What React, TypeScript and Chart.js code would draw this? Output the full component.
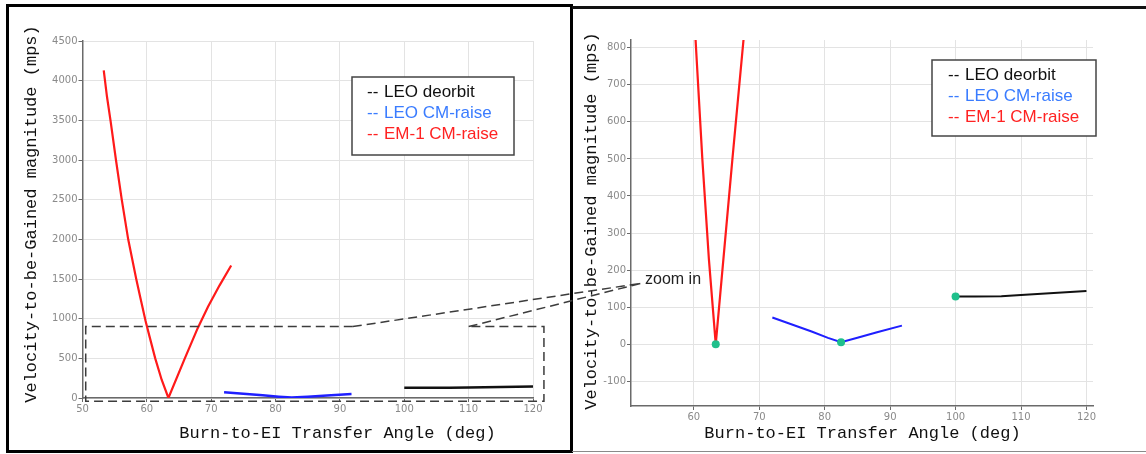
import React, { useEffect, useRef } from 'react';
import { Chart, registerables } from 'chart.js';

Chart.register(...registerables);

// ---------- data ----------
const redX = [53.3, 53.8, 54.35, 55.2, 56.1, 57.1, 58.35, 59.0, 59.8, 60.4, 61.3, 62.3, 63.35, 65.9, 67.9, 69.5, 71.3, 73.1];
const redY = [4130, 3800, 3500, 3000, 2500, 2000, 1500, 1260, 970, 780, 500, 230, 0, 500, 880, 1150, 1420, 1670];
const blueX = [72, 75, 78, 80.5, 82.5, 85, 88, 91.8];
const blueY = [72, 53, 34, 17, 5, 17, 32, 50];
const blackX = [100, 103, 107, 110, 115, 120];
const blackY = [128.5, 128.8, 129.5, 132.8, 138.3, 143.7];
const minX = [63.35, 82.5, 100];
const minY = [0, 5, 128.5];

const seriesLabels = ['LEO deorbit', 'LEO CM-raise', 'EM-1 CM-raise'];
const legendColors = ['#111111', '#3a7cff', '#ff2222'];
const lineColors = ['#111111', '#1f1fff', '#ff1a1a'];
const minColor = '#1fc08c';

const xTitle = 'Burn-to-EI Transfer Angle (deg)';
const yTitle = 'Velocity-to-be-Gained magnitude (mps)';

const leftXRange = [50, 120];
const leftYRange = [0, 4500];
const leftYStep = 500;
const rightXRange = [50.4, 121];
const rightYRange = [-167, 821];
const rightYStep = 100;
const xStep = 10;

const zoomBoxX = [50.5, 121.7];
const zoomBoxY = [-40, 900];
const zoomGapX = [92, 110];
const zoomTarget = [51.9, 164];

const pts = (xs: number[], ys: number[]) => xs.map((x, i) => ({ x, y: ys[i] }));

const TICK_FONT = { family: '"DejaVu Sans", Verdana, sans-serif', size: 10 };
const MONO = '17px "Liberation Mono", "Courier New", monospace';

function seriesDatasets(width: number) {
  return [
    { label: seriesLabels[0], data: pts(blackX, blackY), borderColor: lineColors[0], borderWidth: width, pointRadius: 0 },
    { label: seriesLabels[1], data: pts(blueX, blueY), borderColor: lineColors[1], borderWidth: width, pointRadius: 0 },
    { label: seriesLabels[2], data: pts(redX, redY), borderColor: lineColors[2], borderWidth: 2.2, pointRadius: 0 },
  ];
}

function scaleOpts(range: number[], step: number, fit: (s: any) => void) {
  return {
    type: 'linear',
    min: range[0],
    max: range[1],
    afterFit: fit,
    border: { display: true, color: '#6a6a6a', width: 1.5 },
    grid: { color: '#e3e3e3', lineWidth: 1, drawTicks: true, tickLength: 4, tickColor: '#6a6a6a' },
    ticks: {
      stepSize: step,
      includeBounds: false,
      color: '#8a8a8a',
      font: TICK_FONT,
      padding: 1,
      maxRotation: 0,
      autoSkip: false,
      callback: (v: any) => String(v),
    },
    title: { display: false },
  };
}

function makeLegend(id: string, bx: number, by: number, bw: number, bh: number, dashDx: number, textDx: number) {
  return {
    id,
    afterDraw(chart: any) {
      const { ctx, chartArea } = chart;
      const x0 = chartArea.left + bx;
      const y0 = chartArea.top + by;
      ctx.save();
      ctx.fillStyle = '#ffffff';
      ctx.fillRect(x0, y0, bw, bh);
      ctx.strokeStyle = '#444444';
      ctx.lineWidth = 1.5;
      ctx.strokeRect(x0, y0, bw, bh);
      ctx.font = '17px "Liberation Sans", Arial, sans-serif';
      ctx.textBaseline = 'middle';
      seriesLabels.forEach((lab, i) => {
        const yy = y0 + 15 + i * 21;
        ctx.fillStyle = legendColors[i];
        ctx.fillText('--', x0 + dashDx, yy);
        ctx.fillText(lab, x0 + textDx, yy);
      });
      ctx.restore();
    },
  };
}

function makeTitles(id: string, xPos: number[], yPos: number[]) {
  return {
    id,
    afterDraw(chart: any) {
      const { ctx } = chart;
      ctx.save();
      ctx.font = MONO;
      ctx.fillStyle = '#111111';
      ctx.textAlign = 'center';
      ctx.textBaseline = 'middle';
      ctx.fillText(xTitle, xPos[0], xPos[1]);
      ctx.translate(yPos[0], yPos[1]);
      ctx.rotate(-Math.PI / 2);
      ctx.fillText(yTitle, 0, 0);
      ctx.restore();
    },
  };
}

const zoomBoxPlugin = {
  id: 'zoomBox',
  afterDatasetsDraw(chart: any) {
    const { ctx, scales } = chart;
    const x0 = scales.x.getPixelForValue(zoomBoxX[0]);
    const x1 = scales.x.getPixelForValue(zoomBoxX[1]);
    const yb = scales.y.getPixelForValue(zoomBoxY[0]);
    const yt = scales.y.getPixelForValue(zoomBoxY[1]);
    const g0 = scales.x.getPixelForValue(zoomGapX[0]);
    const g1 = scales.x.getPixelForValue(zoomGapX[1]);
    ctx.save();
    ctx.setLineDash([9, 5]);
    ctx.strokeStyle = '#3c3c3c';
    ctx.lineWidth = 1.5;
    ctx.beginPath();
    ctx.moveTo(g0, yt);
    ctx.lineTo(x0, yt);
    ctx.lineTo(x0, yb);
    ctx.lineTo(x1, yb);
    ctx.lineTo(x1, yt);
    ctx.lineTo(g1, yt);
    ctx.stroke();
    ctx.restore();
  },
};

const LEFT = { left: 8, top: 8, width: 562, height: 442 };
const RIGHT = { left: 574, top: 8, width: 572, height: 442 };

export default function App() {
  const leftRef = useRef<HTMLCanvasElement>(null);
  const rightRef = useRef<HTMLCanvasElement>(null);
  const overlayRef = useRef<HTMLCanvasElement>(null);

  useEffect(() => {
    const left = new Chart(leftRef.current as HTMLCanvasElement, {
      type: 'line',
      data: { datasets: seriesDatasets(2.5) as any },
      options: {
        animation: false,
        responsive: false,
        layout: { padding: { left: 0, top: 33, right: 37, bottom: 0 } },
        plugins: { legend: { display: false }, tooltip: { enabled: false } },
        scales: {
          x: scaleOpts(leftXRange, xStep, (s: any) => { s.height = 52; }) as any,
          y: scaleOpts(leftYRange, leftYStep, (s: any) => { s.width = 74.5; }) as any,
        },
      },
      plugins: [zoomBoxPlugin, makeLegend('legL', 269.5, 36, 162, 78, 15, 32), makeTitles('titL', [329.5, 425], [23.7, 206])],
    });

    const right = new Chart(rightRef.current as HTMLCanvasElement, {
      type: 'line',
      data: {
        datasets: [
          { label: 'min', data: pts(minX, minY), showLine: false, pointRadius: 4, pointBackgroundColor: minColor, pointBorderWidth: 0, borderColor: minColor },
          ...seriesDatasets(2),
        ] as any,
      },
      options: {
        animation: false,
        responsive: false,
        layout: { padding: { left: 0, top: 32, right: 53, bottom: 0 } },
        plugins: { legend: { display: false }, tooltip: { enabled: false } },
        scales: {
          x: scaleOpts(rightXRange, xStep, (s: any) => { s.height = 44; }) as any,
          y: scaleOpts(rightYRange, rightYStep, (s: any) => { s.width = 57; }) as any,
        },
      },
      plugins: [makeLegend('legR', 301, 20, 164, 76, 16, 33), makeTitles('titR', [288.5, 425.3], [17.7, 213])],
    });

    // connectors from zoom box to the zoomed chart
    const ov = overlayRef.current as HTMLCanvasElement;
    const ctx = ov.getContext('2d') as CanvasRenderingContext2D;
    ctx.clearRect(0, 0, ov.width, ov.height);
    const ly = LEFT.top + left.scales.y.getPixelForValue(zoomBoxY[1]);
    const s0 = LEFT.left + left.scales.x.getPixelForValue(zoomGapX[0]);
    const s1 = LEFT.left + left.scales.x.getPixelForValue(zoomGapX[1]);
    const ex = RIGHT.left + right.scales.x.getPixelForValue(zoomTarget[0]);
    const ey = RIGHT.top + right.scales.y.getPixelForValue(zoomTarget[1]);
    ctx.save();
    ctx.setLineDash([9, 5]);
    ctx.strokeStyle = '#3c3c3c';
    ctx.lineWidth = 1.5;
    ctx.beginPath();
    ctx.moveTo(s0, ly);
    ctx.lineTo(ex, ey);
    ctx.moveTo(s1, ly);
    ctx.lineTo(ex, ey);
    ctx.stroke();
    ctx.restore();

    return () => {
      left.destroy();
      right.destroy();
    };
  }, []);

  return (
    <div style={{ position: 'absolute', left: 0, top: 0, width: 1146, height: 454, background: '#fff', overflow: 'hidden' }}>
      <div style={{ position: 'absolute', left: 6, top: 4, width: 567, height: 449, border: '3px solid #000', boxSizing: 'border-box' }} />
      <div style={{ position: 'absolute', left: 572, top: 6, width: 574, height: 2.5, background: '#111' }} />
      <div style={{ position: 'absolute', left: 572, top: 451, width: 574, height: 1, background: '#8a8a8a' }} />
      <canvas ref={leftRef} width={LEFT.width} height={LEFT.height}
        style={{ position: 'absolute', left: LEFT.left, top: LEFT.top, width: LEFT.width, height: LEFT.height }} />
      <canvas ref={rightRef} width={RIGHT.width} height={RIGHT.height}
        style={{ position: 'absolute', left: RIGHT.left, top: RIGHT.top, width: RIGHT.width, height: RIGHT.height }} />
      <canvas ref={overlayRef} width={1146} height={454}
        style={{ position: 'absolute', left: 0, top: 0, width: 1146, height: 454, pointerEvents: 'none' }} />
      <div style={{ position: 'absolute', left: 645, top: 270, fontFamily: '"Liberation Sans", Arial, sans-serif', fontSize: 16, lineHeight: '18px', color: '#222', whiteSpace: 'nowrap' }}>zoom in</div>
    </div>
  );
}
